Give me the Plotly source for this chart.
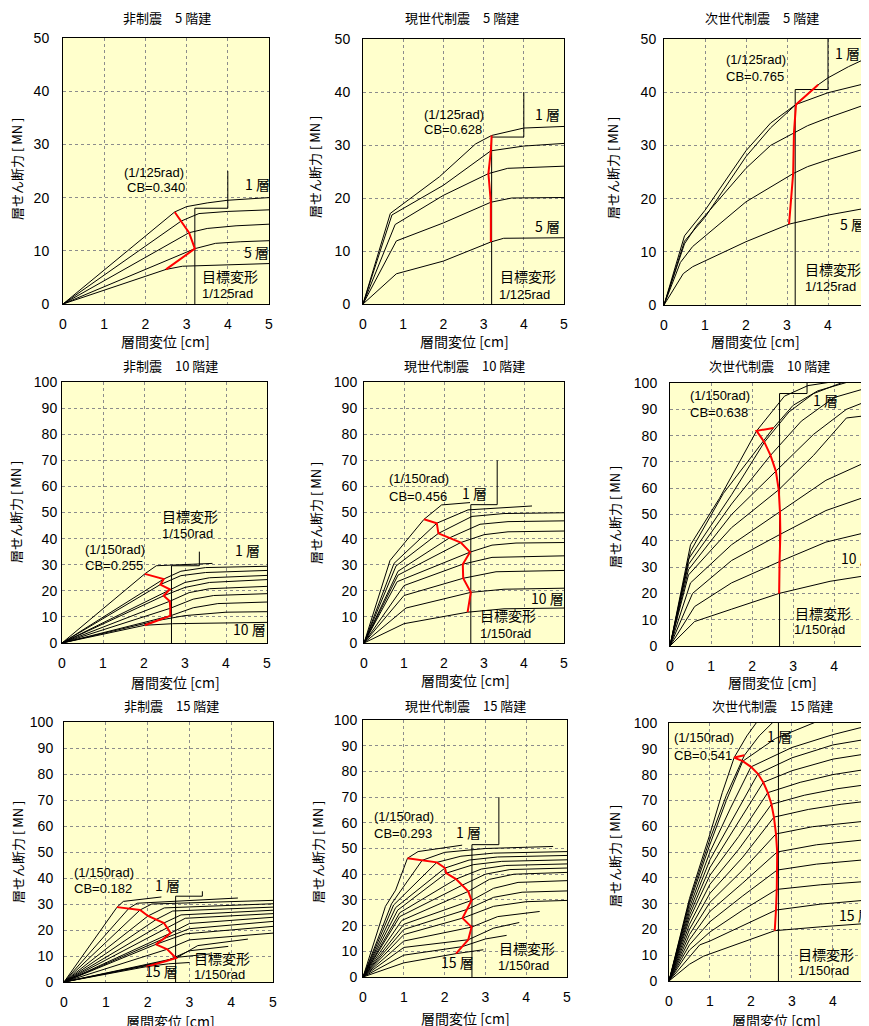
import plotly.graph_objects as go
from plotly.subplots import make_subplots

# page body keeps its default 8px margin, so the figure is drawn 8px in
OFF = 8
W, H = 869 - OFF, 1026 - OFF

# ================= 非制震 5階建 =================
h5_none_story_x = [
    [0, 2.71, 3.0, 3.5, 4.0, 5.0],
    [0, 2.87, 3.3, 4.0, 5.0],
    [0, 3.06, 3.5, 4.2, 5.0],
    [0, 3.2, 3.7, 4.3, 5.0],
    [0, 2.5, 2.9, 4.0, 5.0],
]
h5_none_story_y = [
    [0, 17.3, 18.3, 19.0, 19.5, 20.0],
    [0, 15.6, 17.0, 17.4, 17.7],
    [0, 13.4, 14.2, 14.7, 15.0],
    [0, 10.4, 11.4, 11.7, 11.9],
    [0, 6.5, 7.1, 7.4, 7.6],
]
h5_none_red_x = [2.71, 2.87, 3.06, 3.2, 2.5]
h5_none_red_y = [17.3, 15.6, 13.4, 10.4, 6.5]
h5_none_guide_x = [3.2, 3.2, 4.0, 4.0]
h5_none_guide_y = [0, 18.0, 18.0, 25.0]

# ================= 現世代制震 5階建 =================
h5_cur_story_x = [
    [0, 0.68, 1.9, 2.8, 3.2, 4.0, 5.0],
    [0, 0.72, 2.0, 3.0, 3.18, 4.0, 5.0],
    [0, 0.8, 2.0, 3.12, 3.6, 5.0],
    [0, 0.83, 2.0, 3.18, 3.7, 5.0],
    [0, 0.83, 2.0, 3.18, 3.5, 5.0],
]
h5_cur_story_y = [
    [0, 17.1, 24.0, 30.2, 31.8, 33.2, 33.5],
    [0, 16.8, 22.4, 28.0, 28.9, 29.8, 30.3],
    [0, 15.0, 20.5, 24.6, 25.6, 26.0],
    [0, 11.9, 15.3, 19.2, 20.0, 20.1],
    [0, 5.7, 8.1, 11.7, 12.4, 12.5],
]
h5_cur_red_x = [3.2, 3.18, 3.12, 3.18, 3.18]
h5_cur_red_y = [31.8, 28.9, 24.6, 19.2, 11.7]
h5_cur_guide_x = [3.2, 3.2, 4.0, 4.0]
h5_cur_guide_y = [0, 31.5, 31.5, 40.0]

# ================= 次世代制震 5階建 =================
h5_next_story_x = [
    [0, 0.5, 1.0, 2.0, 2.6, 3.2, 3.76, 4.0, 4.5, 5.0],
    [0, 0.5, 1.0, 2.0, 2.6, 3.22, 4.0, 5.0],
    [0, 0.5, 0.8, 2.0, 2.6, 3.17, 3.5, 4.0, 5.0],
    [0, 0.4, 0.7, 2.0, 3.15, 3.5, 4.0, 5.0],
    [0, 0.47, 0.7, 2.0, 3.05, 4.0, 5.0],
]
h5_next_story_y = [
    [0, 13.0, 17.8, 29.0, 34.2, 37.6, 41.4, 42.7, 44.8, 46.6],
    [0, 12.0, 16.5, 27.9, 33.3, 37.7, 39.9, 41.8],
    [0, 11.5, 15.0, 25.7, 30.0, 32.4, 33.7, 35.2, 37.9],
    [0, 8.0, 11.0, 19.4, 24.7, 26.0, 27.3, 29.6],
    [0, 5.9, 7.2, 11.9, 15.2, 16.9, 18.3],
]
h5_next_red_x = [3.76, 3.22, 3.17, 3.15, 3.05]
h5_next_red_y = [41.4, 37.7, 32.4, 24.7, 15.2]
h5_next_guide_x = [3.2, 3.2, 4.0, 4.0]
h5_next_guide_y = [0, 40.5, 40.5, 50.0]

# ================= 非制震 10階建 =================
h10_none_story_x = [
    [0, 2.02, 2.3, 3.67],
    [0, 2.48, 2.9, 3.5, 5.0],
    [0, 2.40, 2.9, 3.5, 5.0],
    [0, 2.63, 3.0, 3.6, 5.0],
    [0, 2.48, 3.0, 3.6, 5.0],
    [0, 2.63, 3.1, 3.6, 5.0],
    [0, 2.64, 3.2, 3.7, 5.0],
    [0, 2.64, 3.2, 3.8, 5.0],
    [0, 2.33, 3.0, 4.0, 5.0],
    [0, 2.02, 2.7, 4.0, 5.0],
]
h10_none_story_y = [
    [0, 26.5, 29.6, 30.5],
    [0, 24.5, 27.5, 28.9, 29.4],
    [0, 22.4, 25.8, 27.0, 27.8],
    [0, 20.6, 23.2, 25.0, 25.9],
    [0, 18.1, 21.3, 23.2, 24.3],
    [0, 16.0, 19.3, 20.8, 21.7],
    [0, 13.3, 16.8, 18.2, 18.9],
    [0, 10.4, 13.5, 15.1, 15.7],
    [0, 8.6, 10.5, 11.8, 12.0],
    [0, 6.8, 7.4, 7.8, 7.9],
]
h10_none_red_x = [2.02, 2.48, 2.40, 2.63, 2.48, 2.63, 2.64, 2.64, 2.33, 2.02]
h10_none_red_y = [26.5, 24.5, 22.4, 20.6, 18.1, 16.0, 13.3, 10.4, 8.6, 6.8]
h10_none_guide_x = [2.67, 2.67, 3.35, 3.35]
h10_none_guide_y = [0, 29.6, 29.6, 35.0]

# ================= 現世代制震 10階建 =================
h10_cur_story_x = [
    [0, 0.65, 1.5, 1.94, 2.65],
    [0, 0.75, 1.82, 2.6, 4.2],
    [0, 0.8, 1.86, 2.7, 3.5, 5.0],
    [0, 0.85, 2.14, 2.9, 3.6, 5.0],
    [0, 0.85, 2.42, 3.0, 3.6, 5.0],
    [0, 0.83, 2.65, 3.2, 3.8, 5.0],
    [0, 1.0, 2.47, 3.2, 5.0],
    [0, 1.0, 2.48, 3.3, 5.0],
    [0, 1.05, 2.67, 3.5, 5.0],
    [0, 1.0, 2.59, 3.5, 5.0],
]
h10_cur_story_y = [
    [0, 31.6, 47.4, 52.9, 53.8],
    [0, 30.5, 45.9, 51.0, 52.5],
    [0, 29.5, 42.0, 48.5, 49.6, 49.9],
    [0, 27.5, 40.3, 45.5, 46.5, 46.8],
    [0, 26.0, 38.5, 41.5, 42.6, 42.9],
    [0, 23.5, 34.8, 37.5, 38.3, 38.5],
    [0, 22.0, 30.2, 32.8, 33.4],
    [0, 18.2, 24.8, 27.3, 27.8],
    [0, 13.4, 19.4, 20.6, 21.0],
    [0, 7.4, 11.8, 13.1, 13.4],
]
h10_cur_red_x = [1.5, 1.82, 1.86, 2.14, 2.42, 2.65, 2.47, 2.48, 2.67, 2.59]
h10_cur_red_y = [47.4, 45.9, 42.0, 40.3, 38.5, 34.8, 30.2, 24.8, 19.4, 11.8]
h10_cur_guide_x = [2.67, 2.67, 3.33, 3.33]
h10_cur_guide_y = [0, 53.0, 53.0, 70.0]

# ================= 次世代制震 10階建 =================
h10_next_story_x = [
    [0, 0.5, 1.3, 2.52, 3.0, 3.6, 4.3],
    [0, 0.5, 1.2, 2.11, 2.79, 3.36, 3.9],
    [0, 0.45, 1.5, 2.3, 2.9, 3.5, 4.2],
    [0, 0.45, 1.5, 2.45, 3.2, 4.0, 5.0],
    [0, 0.45, 1.5, 2.58, 3.5, 4.3, 5.0],
    [0, 0.45, 1.5, 2.65, 3.5, 4.3, 5.0],
    [0, 0.5, 1.5, 2.68, 3.8, 5.0],
    [0, 0.55, 1.5, 2.69, 3.8, 5.0],
    [0, 0.6, 1.5, 2.67, 3.8, 5.0],
    [0, 0.6, 1.5, 2.66, 3.9, 5.0],
]
h10_next_story_y = [
    [0, 36.0, 58.0, 82.9, 91.5, 97.0, 100.2],
    [0, 38.5, 56.0, 81.8, 95.0, 99.0, 100.3],
    [0, 33.0, 57.5, 77.5, 89.0, 96.0, 100.2],
    [0, 31.0, 54.0, 72.5, 85.5, 94.5, 99.0],
    [0, 29.0, 50.0, 66.5, 80.5, 90.0, 94.3],
    [0, 27.0, 45.0, 59.4, 72.5, 86.7, 88.0],
    [0, 24.0, 38.5, 51.0, 63.0, 71.5],
    [0, 20.0, 32.5, 42.5, 51.5, 58.0],
    [0, 15.0, 24.0, 32.1, 39.5, 44.0],
    [0, 9.3, 14.0, 20.0, 24.6, 27.3],
]
h10_next_red_x = [2.52, 2.11, 2.3, 2.45, 2.58, 2.65, 2.68, 2.69, 2.67, 2.66]
h10_next_red_y = [82.9, 81.8, 77.5, 72.5, 66.5, 59.4, 51.0, 42.5, 32.1, 20.0]
h10_next_guide_x = [2.67, 2.67, 3.34, 3.34]
h10_next_guide_y = [0, 96.0, 96.0, 100.0]

# ================= 非制震 15階建 =================
h15_none_story_x = [
    [0, 1.27, 1.42, 2.33],
    [0, 1.55, 1.75, 4.16],
    [0, 1.82, 2.1, 5.0],
    [0, 2.01, 2.4, 5.0],
    [0, 2.2, 2.6, 5.0],
    [0, 2.39, 2.8, 5.0],
    [0, 2.47, 2.9, 5.0],
    [0, 2.55, 3.0, 5.0],
    [0, 2.38, 3.0, 5.0],
    [0, 2.2, 2.9, 5.0],
    [0, 2.47, 3.0, 5.0],
    [0, 2.68, 3.2, 4.4],
    [0, 2.45, 3.0, 3.93],
    [0, 2.2, 2.7, 3.5],
    [0, 1.97, 2.5, 3.0],
]
h15_none_story_y = [
    [0, 28.8, 31.0, 32.7],
    [0, 28.3, 30.3, 32.3],
    [0, 27.7, 30.0, 31.4],
    [0, 25.4, 28.5, 30.1],
    [0, 24.0, 27.3, 28.8],
    [0, 22.7, 25.8, 27.6],
    [0, 20.8, 24.5, 26.3],
    [0, 18.8, 22.5, 24.9],
    [0, 16.6, 20.5, 23.3],
    [0, 14.5, 18.5, 21.4],
    [0, 12.6, 16.2, 18.8],
    [0, 9.2, 14.0, 16.5],
    [0, 8.1, 12.0, 13.7],
    [0, 7.0, 9.5, 10.8],
    [0, 5.9, 7.0, 7.5],
]
h15_none_red_x = [1.27, 1.55, 1.82, 2.01, 2.2, 2.39, 2.47, 2.55, 2.38, 2.2, 2.47, 2.68, 2.45, 2.2, 1.97]
h15_none_red_y = [28.8, 28.3, 27.7, 25.4, 24.0, 22.7, 20.8, 18.8, 16.6, 14.5, 12.6, 9.2, 8.1, 7.0, 5.9]
h15_none_guide_x = [2.67, 2.67, 3.31, 3.31]
h15_none_guide_y = [0, 33.0, 33.0, 34.9]

# ================= 現世代制震 15階建 =================
h15_cur_story_x = [
    [0, 0.55, 0.8, 1.09, 1.35, 2.43],
    [0, 0.7, 1.45, 2.0, 3.0, 4.66],
    [0, 0.75, 1.81, 2.4, 3.2, 5.0],
    [0, 0.8, 2.01, 2.6, 3.3, 5.0],
    [0, 0.85, 2.04, 2.7, 3.4, 5.0],
    [0, 0.9, 2.28, 2.9, 3.5, 5.0],
    [0, 0.9, 2.43, 3.0, 3.6, 5.0],
    [0, 0.95, 2.58, 3.1, 3.7, 5.0],
    [0, 1.0, 2.66, 3.2, 3.8, 5.0],
    [0, 1.0, 2.55, 3.2, 3.9, 5.0],
    [0, 1.0, 2.44, 3.2, 4.0, 5.0],
    [0, 1.0, 2.66, 3.3, 4.33],
    [0, 1.0, 2.58, 3.2, 3.83],
    [0, 1.0, 2.43, 3.0, 3.52],
    [0, 1.0, 2.28, 2.95],
]
h15_cur_story_y = [
    [0, 27.5, 33.8, 46.2, 48.8, 51.3],
    [0, 28.5, 45.4, 48.5, 50.0, 50.8],
    [0, 28.0, 44.6, 47.0, 48.2, 48.8],
    [0, 27.0, 42.4, 45.5, 46.7, 47.3],
    [0, 26.0, 40.4, 43.7, 45.0, 45.6],
    [0, 25.0, 38.1, 42.0, 43.4, 44.0],
    [0, 23.5, 35.7, 40.0, 41.8, 42.4],
    [0, 22.0, 33.3, 38.0, 40.0, 40.7],
    [0, 20.5, 29.8, 34.5, 36.8, 37.5],
    [0, 18.5, 26.3, 31.0, 33.0, 33.5],
    [0, 16.5, 22.9, 27.5, 29.3, 29.8],
    [0, 14.0, 19.4, 23.5, 25.5],
    [0, 11.5, 14.5, 19.0, 21.2],
    [0, 8.5, 11.8, 14.8, 16.2],
    [0, 5.5, 9.1, 10.6],
]
h15_cur_red_x = [1.09, 1.45, 1.81, 2.01, 2.04, 2.28, 2.43, 2.58, 2.66, 2.55, 2.44, 2.66, 2.58, 2.43, 2.28]
h15_cur_red_y = [46.2, 45.4, 44.6, 42.4, 40.4, 38.1, 35.7, 33.3, 29.8, 26.3, 22.9, 19.4, 14.5, 11.8, 9.1]
h15_cur_guide_x = [2.67, 2.67, 3.33, 3.33]
h15_cur_guide_y = [0, 51.5, 51.5, 70.0]

# ================= 次世代制震 15階建 =================
h15_next_story_x = [
    [0, 0.5, 1.0, 1.4, 1.84, 2.2, 2.55],
    [0, 0.5, 1.0, 1.3, 1.59, 1.9, 2.15],
    [0, 0.5, 1.0, 1.4, 1.8, 2.6, 3.6],
    [0, 0.5, 1.0, 1.5, 2.0, 3.0, 4.0, 5.0],
    [0, 0.5, 1.0, 1.6, 2.17, 3.0, 4.0, 5.0],
    [0, 0.5, 1.0, 1.6, 2.3, 3.0, 4.0, 5.0],
    [0, 0.5, 1.0, 1.7, 2.41, 3.2, 4.0, 5.0],
    [0, 0.5, 1.0, 1.7, 2.5, 3.3, 4.1, 5.0],
    [0, 0.5, 1.0, 1.8, 2.56, 3.4, 4.2, 5.0],
    [0, 0.5, 1.0, 1.8, 2.61, 3.5, 5.0],
    [0, 0.5, 1.0, 1.8, 2.64, 3.6, 5.0],
    [0, 0.5, 1.0, 1.8, 2.64, 3.6, 5.0],
    [0, 0.5, 1.0, 1.8, 2.63, 3.7, 5.0],
    [0, 0.5, 0.75, 1.0, 1.8, 2.61, 3.7, 5.0],
    [0, 0.5, 0.84, 1.7, 2.58, 3.7, 5.0],
]
h15_next_story_y = [
    [0, 31, 55, 72, 87.5, 95, 100.5],
    [0, 32, 57, 73, 86.6, 95, 100.5],
    [0, 30, 53, 70, 85.2, 94, 100.5],
    [0, 28.5, 50, 67, 83.0, 90.5, 95.5, 99.5],
    [0, 27, 47, 64, 80.3, 86.5, 91.5, 94.2],
    [0, 25.5, 44, 59, 77.0, 81.5, 86, 88.5],
    [0, 24, 41, 56, 73.0, 77, 80, 82.5],
    [0, 22, 37.5, 51, 68.5, 72, 74.5, 76.5],
    [0, 20, 34, 48, 63.5, 66.5, 68.5, 70],
    [0, 18, 30.5, 43, 57.0, 59.8, 62.3],
    [0, 16, 27, 38, 50.0, 52.8, 55.1],
    [0, 14, 23, 33, 43.0, 45.3, 47.3],
    [0, 12, 19, 27.5, 35.5, 37.3, 38.8],
    [0, 9.5, 14, 15.5, 21.5, 27.5, 29.8, 31.6],
    [0, 6.5, 9.6, 14.5, 19.5, 21.0, 22.5],
]
h15_next_red_x = [1.84, 1.59, 1.8, 2.0, 2.17, 2.3, 2.41, 2.5, 2.56, 2.61, 2.64, 2.64, 2.63, 2.61, 2.58]
h15_next_red_y = [87.5, 86.6, 85.2, 83.0, 80.3, 77.0, 73.0, 68.5, 63.5, 57.0, 50.0, 43.0, 35.5, 27.5, 19.5]
h15_next_guide_x = [2.67, 2.67]
h15_next_guide_y = [0, 100.0]

# ---------------- panel layout (window pixel boxes) ----------------
FONT = "Liberation Sans, Arial, Noto Sans CJK JP, sans-serif"
JFONT = "Noto Sans CJK JP, sans-serif"

panels = [
    dict(title="非制震　5 階建", data=(h5_none_story_x, h5_none_story_y, h5_none_red_x, h5_none_red_y, h5_none_guide_x, h5_none_guide_y),
         box=(63, 269, 38, 304), xr=5, yr=50, ystand=10, tpos=(167, 18), ypos=(17, 169), xpos=(165, 341),
         labels=[("(1/125rad)", 1.42, 24.8), ("CB=0.340", 1.5, 21.9), ("1 層", 4.37, 22.6), ("5 層", 4.35, 9.8),
                 ("目標変形", 3.32, 5.25), ("1/125rad", 3.32, 2.0)]),
    dict(title="現世代制震　5 階建", data=(h5_cur_story_x, h5_cur_story_y, h5_cur_red_x, h5_cur_red_y, h5_cur_guide_x, h5_cur_guide_y),
         box=(363, 564, 39, 304), xr=5, yr=50, ystand=9, tpos=(462, 18), ypos=(315, 167), xpos=(464, 341),
         labels=[("(1/125rad)", 1.47, 35.7), ("CB=0.628", 1.47, 32.9), ("1 層", 4.22, 35.9), ("5 層", 4.22, 14.8),
                 ("目標変形", 3.35, 5.3), ("1/125rad", 3.33, 1.8)]),
    dict(title="次世代制震　5 階建", data=(h5_next_story_x, h5_next_story_y, h5_next_red_x, h5_next_red_y, h5_next_guide_x, h5_next_guide_y),
         box=(664, 869, 39, 305), xr=5, yr=50, ystand=4, tpos=(762, 18), ypos=(613, 168), xpos=(755, 341),
         labels=[("(1/125rad)", 1.47, 46.2), ("CB=0.765", 1.47, 43.0), ("1 層", 4.11, 47.4), ("5 層", 4.25, 15.3),
                 ("目標変形", 3.38, 6.7), ("1/125rad", 3.38, 3.5)]),
    dict(title="非制震　10 階建", data=(h10_none_story_x, h10_none_story_y, h10_none_red_x, h10_none_red_y, h10_none_guide_x, h10_none_guide_y),
         box=(62, 267, 382, 643), xr=5, yr=100, ystand=1, tpos=(170, 365), ypos=(16, 512), xpos=(175, 682),
         labels=[("目標変形", 2.39, 48.5), ("1/150rad", 2.39, 42.1), ("(1/150rad)", 0.51, 35.8), ("CB=0.255", 0.51, 29.6),
                 ("1 層", 4.18, 35.8), ("10 層", 4.13, 5.4)]),
    dict(title="現世代制震　10 階建", data=(h10_cur_story_x, h10_cur_story_y, h10_cur_red_x, h10_cur_red_y, h10_cur_guide_x, h10_cur_guide_y),
         box=(364, 564, 382, 643), xr=5, yr=100, ystand=3, tpos=(464, 365), ypos=(315, 513), xpos=(465, 680),
         labels=[("(1/150rad)", 0.57, 63.1), ("CB=0.456", 0.57, 56.3), ("1 層", 2.4, 57.3), ("10 層", 4.13, 17.2),
                 ("目標変形", 2.86, 10.8), ("1/150rad", 2.84, 3.8)]),
    dict(title="次世代制震　10 階建", data=(h10_next_story_x, h10_next_story_y, h10_next_red_x, h10_next_red_y, h10_next_guide_x, h10_next_guide_y),
         box=(670, 869, 383, 646), xr=4.85, yr=100, ystand=9, tpos=(769, 365), ypos=(614, 517), xpos=(772, 682),
         labels=[("(1/150rad)", 0.43, 95.2), ("CB=0.638", 0.43, 88.8), ("1 層", 3.43, 93.4), ("10 層", 4.11, 33.4),
                 ("目標変形", 2.99, 12.4), ("1/150rad", 2.97, 6.1)]),
    dict(title="非制震　15 階建", data=(h15_none_story_x, h15_none_story_y, h15_none_red_x, h15_none_red_y, h15_none_guide_x, h15_none_guide_y),
         box=(64, 273, 722, 982), xr=5, yr=100, ystand=7, tpos=(171, 705), ypos=(17, 852), xpos=(170, 1021),
         labels=[("(1/150rad)", 0.18, 42.2), ("CB=0.182", 0.18, 35.9), ("1 層", 2.12, 37.4), ("15 層", 1.9, 4.1),
                 ("目標変形", 3.07, 9.2), ("1/150rad", 3.07, 2.8)]),
    dict(title="現世代制震　15 階建", data=(h15_cur_story_x, h15_cur_story_y, h15_cur_red_x, h15_cur_red_y, h15_cur_guide_x, h15_cur_guide_y),
         box=(363, 567, 720, 977), xr=5, yr=100, ystand=2, tpos=(466, 705), ypos=(317, 852), xpos=(465, 1018),
         labels=[("(1/150rad)", 0.22, 62.4), ("CB=0.293", 0.22, 56.0), ("1 層", 2.23, 56.6), ("15 層", 1.87, 5.7),
                 ("目標変形", 3.29, 11.3), ("1/150rad", 3.27, 4.4)]),
    dict(title="次世代制震　15 階建", data=(h15_next_story_x, h15_next_story_y, h15_next_red_x, h15_next_red_y, h15_next_guide_x, h15_next_guide_y),
         box=(669, 869, 723, 981), xr=4.88, yr=100, ystand=8, tpos=(772, 705), ypos=(614, 856), xpos=(776, 1020),
         labels=[("(1/150rad)", 0.08, 94.2), ("CB=0.541", 0.08, 87.4), ("1 層", 2.35, 94.8), ("15 層", 4.1, 25.5),
                 ("目標変形", 3.11, 10.4), ("1/150rad", 3.09, 3.9)]),
]


def px(xp):
    return (xp - OFF) / W


def py(yp):
    return 1 - (yp - OFF) / H


fig = make_subplots(rows=3, cols=3)
annotations = []

for i, p in enumerate(panels):
    r, c = i // 3 + 1, i % 3 + 1
    sx, sy, rx, ry, gx, gy = p["data"]
    for xs, ys in zip(sx, sy):
        fig.add_trace(go.Scatter(x=xs, y=ys, mode="lines", line=dict(color="black", width=1),
                                 showlegend=False, hoverinfo="skip"), row=r, col=c)
    fig.add_trace(go.Scatter(x=gx, y=gy, mode="lines", line=dict(color="black", width=1),
                             showlegend=False, hoverinfo="skip"), row=r, col=c)
    fig.add_trace(go.Scatter(x=rx, y=ry, mode="lines", line=dict(color="#ff0000", width=2),
                             showlegend=False, hoverinfo="skip"), row=r, col=c)

    x0, x1, yt, yb = p["box"]
    sfx = "" if i == 0 else str(i + 1)
    fig.layout["xaxis" + sfx].update(
        domain=[max(px(x0), 0), min(px(x1), 1.0)], range=[0, p["xr"]], dtick=1, tick0=0,
        showgrid=True, gridcolor="#8c8c8c", griddash="dot", gridwidth=1,
        showline=True, linecolor="black", linewidth=1, mirror=True, zeroline=False,
        ticks="", ticklabelstandoff=7, automargin=False,
        tickfont=dict(family=FONT, size=14, color="black"), fixedrange=True)
    fig.layout["yaxis" + sfx].update(
        domain=[max(py(yb), 0), min(py(yt), 1.0)], range=[0, p["yr"]], dtick=10, tick0=0,
        showgrid=True, gridcolor="#8c8c8c", griddash="dot", gridwidth=1,
        showline=True, linecolor="black", linewidth=1, mirror=True, zeroline=False,
        ticks="", ticklabelstandoff=p["ystand"], automargin=False,
        tickfont=dict(family=FONT, size=14, color="black"), fixedrange=True)

    xref, yref = "x" + sfx, "y" + sfx
    for text, lx, ly in p["labels"]:
        cjk = any(ord(ch) > 0x3000 for ch in text)
        annotations.append(dict(text=text, x=lx, y=ly, xref=xref, yref=yref, xanchor="left", yanchor="middle",
                                showarrow=False, font=dict(family=JFONT if cjk else FONT, size=14 if cjk else 13,
                                                           color="black")))
    tx, ty = p["tpos"]
    annotations.append(dict(text=p["title"], x=px(tx), y=py(ty), xref="paper", yref="paper",
                            xanchor="center", yanchor="middle", showarrow=False,
                            font=dict(family=JFONT, size=13, color="black")))
    qx, qy = p["ypos"]
    annotations.append(dict(text="層せん断力 [ MN ]", x=px(qx), y=py(qy), xref="paper", yref="paper",
                            xanchor="center", yanchor="middle", showarrow=False, textangle=-90,
                            font=dict(family=JFONT, size=13, color="black")))
    ux, uy = p["xpos"]
    annotations.append(dict(text="層間変位 [cm]", x=px(ux), y=py(uy), xref="paper", yref="paper",
                            xanchor="center", yanchor="middle", showarrow=False,
                            font=dict(family=JFONT, size=14, color="black")))

fig.update_layout(
    width=W, height=H, margin=dict(l=0, r=0, t=0, b=0, autoexpand=False),
    paper_bgcolor="white", plot_bgcolor="#ffffcc",
    annotations=annotations, showlegend=False,
)

fig.write_html("out.html", config={"displayModeBar": False})
